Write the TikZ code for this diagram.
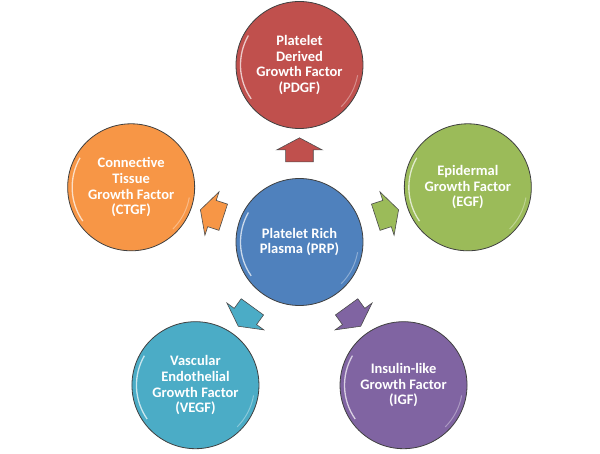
\documentclass[tikz,border=0pt]{standalone}
\usepackage{fontspec}
\setmainfont{Carlito}
\usepackage{tikz}
\usetikzlibrary{calc,shapes.arrows}

\definecolor{prpblue}{HTML}{4F81BD}
\definecolor{pdgfred}{HTML}{C0504D}
\definecolor{egfgreen}{HTML}{9BBB59}
\definecolor{igfpurple}{HTML}{8064A2}
\definecolor{vegfteal}{HTML}{4BACC6}
\definecolor{ctgforange}{HTML}{F79646}

\begin{document}
\begin{tikzpicture}[
    factor/.style={circle,draw=black!75,line width=0.8pt,minimum size=127pt,inner sep=0pt,
        text=white,font=\bfseries\fontsize{14.5}{15.7}\selectfont,align=center,
        path picture={\draw[white,opacity=0.7,line width=1.3pt]
            (path picture bounding box.center) ++(150:59pt) arc[start angle=150,end angle=215,radius=59pt];
            \draw[white,opacity=0.35,line width=1pt]
            (path picture bounding box.center) ++(-45:59pt) arc[start angle=-45,end angle=-10,radius=59pt];}},
    blockarrow/.style={single arrow,draw=black!70,line width=0.6pt,minimum height=24pt,
        inner xsep=0pt,inner ysep=13.5pt,
        single arrow head extend=9pt,single arrow tip angle=124}
]
    \useasboundingbox (-299.5pt,-212pt) rectangle (300.5pt,242pt);

    \node[factor,fill=prpblue] (prp) at (0,0) {Platelet Rich\\Plasma (PRP)};
    \node[factor,fill=pdgfred] (pdgf) at (90:177pt) {Platelet\\Derived\\Growth Factor\\(PDGF)};
    \node[factor,fill=egfgreen] (egf) at (18:177pt) {Epidermal\\Growth Factor\\(EGF)};
    \node[factor,fill=igfpurple] (igf) at (-54:177pt) {Insulin-like\\Growth Factor\\(IGF)};
    \node[factor,fill=vegfteal] (vegf) at (-126:177pt) {Vascular\\Endothelial\\Growth Factor\\(VEGF)};
    \node[factor,fill=ctgforange] (ctgf) at (162:177pt) {Connective\\Tissue\\Growth Factor\\(CTGF)};

    % arrows out of the centre
    \node[blockarrow,fill=pdgfred,rotate=90] (topdgf) at ($(prp)!0.5!(pdgf)$) {};
    \node[blockarrow,fill=egfgreen,rotate=18] (toegf) at ($(prp)!0.5!(egf)$) {};
    \node[blockarrow,fill=igfpurple,rotate=-54] (toigf) at ($(prp)!0.5!(igf)$) {};
    \node[blockarrow,fill=vegfteal,rotate=-126] (tovegf) at ($(prp)!0.5!(vegf)$) {};
    \node[blockarrow,fill=ctgforange,rotate=162] (toctgf) at ($(prp)!0.5!(ctgf)$) {};
\end{tikzpicture}
\end{document}
